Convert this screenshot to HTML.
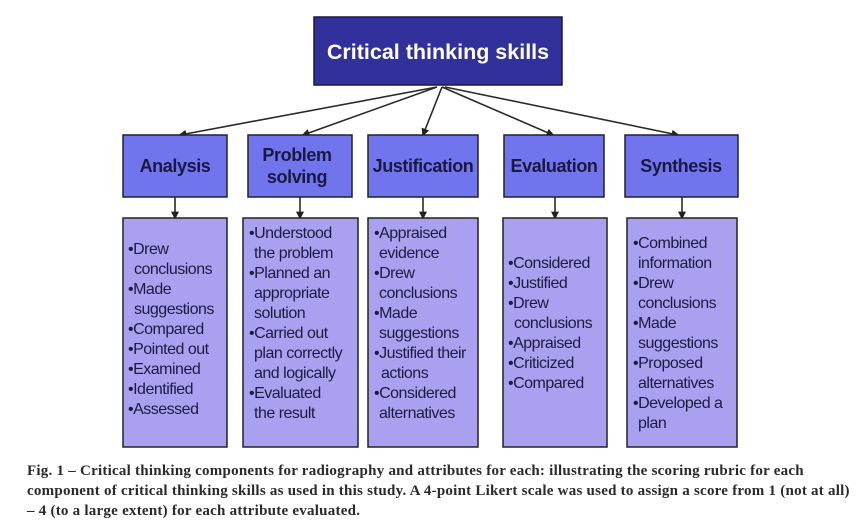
<!DOCTYPE html>
<html><head><meta charset="utf-8"><style>
html,body{margin:0;padding:0;background:#fff;width:859px;height:523px;overflow:hidden}
svg text{font-family:"Liberation Sans",sans-serif}
.l{font-size:16px;fill:#1c1c40;letter-spacing:-0.5px}
.h{font-size:18px;font-weight:bold;fill:#1a1a40;letter-spacing:-0.4px}
.cap{position:absolute;left:27px;top:461px;font-family:"Liberation Serif",serif;font-weight:bold;font-size:15px;line-height:20px;color:#2a2a2a;letter-spacing:0.24px;white-space:nowrap}
</style></head><body>
<svg width="859" height="523" style="position:absolute;left:0;top:0">
<defs><marker id="a" markerWidth="5" markerHeight="5" refX="4" refY="2.5" orient="auto"><path d="M0,0L5,2.5L0,5z" fill="#222"/></marker></defs>
<rect x="314" y="17" width="248" height="68" fill="#32309a" stroke="#1a1a40" stroke-width="1.5"/>
<text x="438" y="59" text-anchor="middle" font-size="21.5" font-weight="bold" fill="#fff">Critical thinking skills</text>
<g stroke="#2a2a2a" stroke-width="1.6" fill="none" marker-end="url(#a)">
<line x1="437" y1="87" x2="180" y2="135"/>
<line x1="437" y1="87" x2="303" y2="135"/>
<line x1="442" y1="87" x2="423" y2="135"/>
<line x1="442" y1="87" x2="553" y2="135"/>
<line x1="445" y1="87" x2="678" y2="135"/>
<line x1="175" y1="197" x2="175" y2="218"/>
<line x1="300" y1="197" x2="300" y2="218"/>
<line x1="423" y1="197" x2="423" y2="218"/>
<line x1="555" y1="197" x2="555" y2="218"/>
<line x1="682" y1="197" x2="682" y2="218"/>
</g>
<g fill="#7075ee" stroke="#222" stroke-width="1.5">
<rect x="123" y="135" width="104" height="62"/>
<rect x="248" y="135" width="104" height="62"/>
<rect x="368" y="135" width="110" height="62"/>
<rect x="504" y="135" width="100" height="62"/>
<rect x="625" y="135" width="113" height="62"/>
</g>
<text class="h" x="175" y="172" text-anchor="middle">Analysis</text>
<text class="h" x="297" y="161" text-anchor="middle">Problem</text>
<text class="h" x="297" y="183" text-anchor="middle">solving</text>
<text class="h" x="423" y="172" text-anchor="middle">Justification</text>
<text class="h" x="554" y="172" text-anchor="middle">Evaluation</text>
<text class="h" x="681" y="172" text-anchor="middle">Synthesis</text>
<g fill="#a9a0f0" stroke="#222" stroke-width="1.5">
<rect x="123" y="218" width="104" height="229"/>
<rect x="243" y="218" width="115" height="229"/>
<rect x="368" y="218" width="110" height="229"/>
<rect x="503" y="218" width="104" height="229"/>
<rect x="627" y="218" width="110" height="229"/>
</g>
<g class="l">
<text x="128" y="254">•Drew</text><text x="134" y="274">conclusions</text><text x="128" y="294">•Made</text><text x="134" y="314">suggestions</text><text x="128" y="334">•Compared</text><text x="128" y="354">•Pointed out</text><text x="128" y="374">•Examined</text><text x="128" y="394">•Identified</text><text x="128" y="414">•Assessed</text>
</g>
<g class="l">
<text x="249" y="238">•Understood</text><text x="254" y="258">the problem</text><text x="249" y="278">•Planned an</text><text x="254" y="298">appropriate</text><text x="254" y="318">solution</text><text x="249" y="338">•Carried out</text><text x="254" y="358">plan correctly</text><text x="254" y="378">and logically</text><text x="249" y="398">•Evaluated</text><text x="254" y="418">the result</text>
</g>
<g class="l">
<text x="374" y="238">•Appraised</text><text x="379" y="258">evidence</text><text x="374" y="278">•Drew</text><text x="379" y="298">conclusions</text><text x="374" y="318">•Made</text><text x="379" y="338">suggestions</text><text x="374" y="358">•Justified their</text><text x="381" y="378">actions</text><text x="374" y="398">•Considered</text><text x="379" y="418">alternatives</text>
</g>
<g class="l">
<text x="508" y="268">•Considered</text><text x="508" y="288">•Justified</text><text x="508" y="308">•Drew</text><text x="514" y="328">conclusions</text><text x="508" y="348">•Appraised</text><text x="508" y="368">•Criticized</text><text x="508" y="388">•Compared</text>
</g>
<g class="l">
<text x="633" y="248">•Combined</text><text x="638" y="268">information</text><text x="633" y="288">•Drew</text><text x="638" y="308">conclusions</text><text x="633" y="328">•Made</text><text x="638" y="348">suggestions</text><text x="633" y="368">•Proposed</text><text x="638" y="388">alternatives</text><text x="633" y="408">•Developed a</text><text x="638" y="428">plan</text>
</g>
</svg>
<div class="cap">Fig. 1 – Critical thinking components for radiography and attributes for each: illustrating the scoring rubric for each<br>component of critical thinking skills as used in this study. A 4-point Likert scale was used to assign a score from 1 (not at all)<br>– 4 (to a large extent) for each attribute evaluated.</div>
</body></html>
